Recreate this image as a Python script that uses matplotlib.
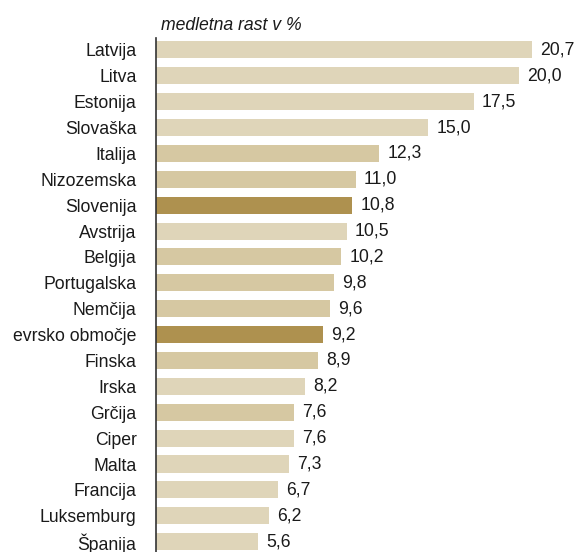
import matplotlib.pyplot as plt
from matplotlib import font_manager

countries = ["Latvija", "Litva", "Estonija", "Slovaška", "Italija", "Nizozemska",
             "Slovenija", "Avstrija", "Belgija", "Portugalska", "Nemčija",
             "evrsko območje", "Finska", "Irska", "Grčija", "Ciper", "Malta",
             "Francija", "Luksemburg", "Španija"]
growth = [20.7, 20.0, 17.5, 15.0, 12.3, 11.0, 10.8, 10.5, 10.2, 9.8, 9.6,
          9.2, 8.9, 8.2, 7.6, 7.6, 7.3, 6.7, 6.2, 5.6]
shade = ["l", "l", "l", "l", "m", "m", "d", "l", "m", "m", "m",
         "d", "m", "l", "m", "l", "l", "l", "l", "l"]

palette = {"l": "#DFD5B9", "m": "#D6C8A2", "d": "#AE914F"}

names = {f.name for f in font_manager.fontManager.ttflist}
fam = "Liberation Sans Narrow" if "Liberation Sans Narrow" in names else "Liberation Sans"
fs = 15 if fam == "Liberation Sans Narrow" else 12.7
plt.rcParams['font.family'] = [fam, 'DejaVu Sans']

fig = plt.figure(figsize=(5.75, 5.52), dpi=100)
ax = fig.add_axes([156 / 575, 0, 23 * 18.16 / 575, 514 / 552])

pos = list(range(len(countries)))
ax.barh(pos, growth, height=0.66, color=[palette[s] for s in shade])
for y, v in zip(pos, growth):
    ax.text(v + 0.45, y, f"{v:.1f}".replace(".", ","), va="center", ha="left",
            fontsize=fs, color="#1a1a1a")

ax.set_xlim(0, 23)
ax.set_ylim(19.4, -0.46)
ax.set_yticks(pos)
ax.set_yticklabels(countries, fontsize=fs, color="#1a1a1a")
ax.tick_params(axis="y", length=0, pad=14)
ax.set_xticks([])
for s in ["top", "right", "bottom"]:
    ax.spines[s].set_visible(False)
ax.spines["left"].set_color("#333333")
ax.spines["left"].set_linewidth(1.2)

fig.text(161 / 575, 1 - 30 / 552, "medletna rast v %", fontsize=fs,
         style="italic", ha="left", va="baseline", color="#1a1a1a")

fig.savefig("out.png", dpi=100)
